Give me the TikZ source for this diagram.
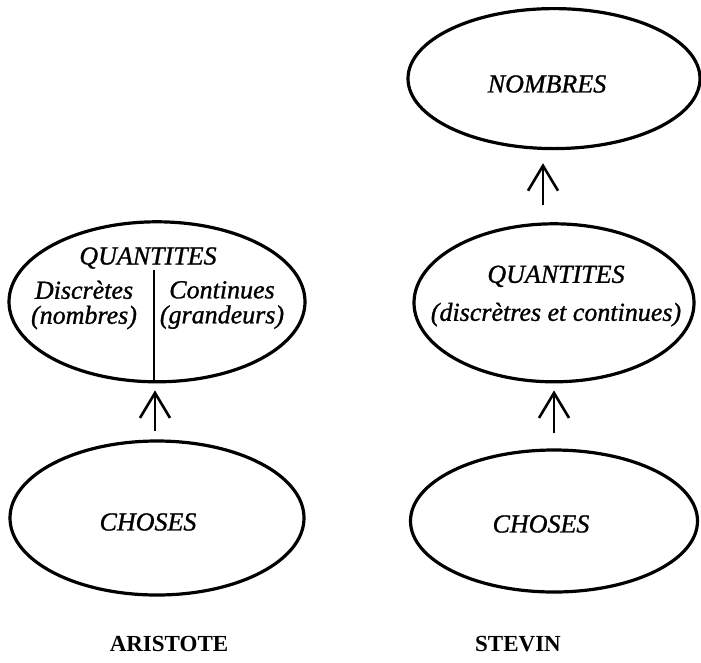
\documentclass[tikz,border=0pt]{standalone}
\usepackage{fontspec}
\setmainfont{Liberation Serif}[ItalicFeatures={FakeBold=1.0}]
\usetikzlibrary{arrows.meta,positioning,shapes.geometric}

\begin{document}
\begin{tikzpicture}[
    x=1pt, y=-1pt,
    oval/.style={ellipse, draw, line width=3.2pt, inner sep=0pt},
    word/.style={font=\fontsize{26}{25}\selectfont\itshape, align=center, inner sep=0pt},
    sage/.style={font=\fontsize{23}{23}\selectfont\bfseries, inner sep=0pt},
    arrow/.style={-{Straight Barb[length=25pt,width=30pt,line width=2.6pt]}, line width=2.6pt}
]
    \useasboundingbox (0,0) rectangle (701,662);

    % Aristote
    \node[oval, minimum width=294pt, minimum height=154pt] (chosesA) at (157,518) {};
    \node[oval, minimum width=296pt, minimum height=160pt, above=56pt of chosesA] (quantA) {};
    \draw[line width=1.3pt] ([xshift=-3pt]quantA.south) -- ++(0,-113);

    % Stevin
    \node[oval, minimum width=287pt, minimum height=142pt] (chosesB) at (554,521) {};
    \node[oval, minimum width=280pt, minimum height=158pt, above=65pt of chosesB] (quantB) {};
    \node[oval, minimum width=292pt, minimum height=140pt, above=72pt of quantB] (nombres) {};

    % Texts
    \node[word] at (148,258) {QUANTITES};
    \node[word] (discr) at (84,305) {Discrètes\\(nombres)};
    \node[word] (cont) at (222,305) {Continues\\(grandeurs)};
    \node[word] at (148,522) {CHOSES};
    \node[word] at (547,84) {NOMBRES};
    \node[word, font=\fontsize{26}{38}\selectfont\itshape] at (556,296) {QUANTITES\\(discrètres et continues)};
    \node[word] at (541,524) {CHOSES};
    \node[sage] at (169,644) {ARISTOTE};
    \node[sage] at (518,644) {STEVIN};

    % Arrows
    \draw[arrow, shorten <=8pt, shorten >=7pt] ([xshift=-2pt]chosesA.north) -- ([xshift=-2pt]quantA.south);
    \draw[arrow, shorten <=15pt, shorten >=7pt] (chosesB) -- (quantB);
    \draw[arrow, shorten <=17pt, shorten >=13pt] ([xshift=-11pt]quantB.north) -- ([xshift=-11pt]nombres.south);
\end{tikzpicture}
\end{document}
